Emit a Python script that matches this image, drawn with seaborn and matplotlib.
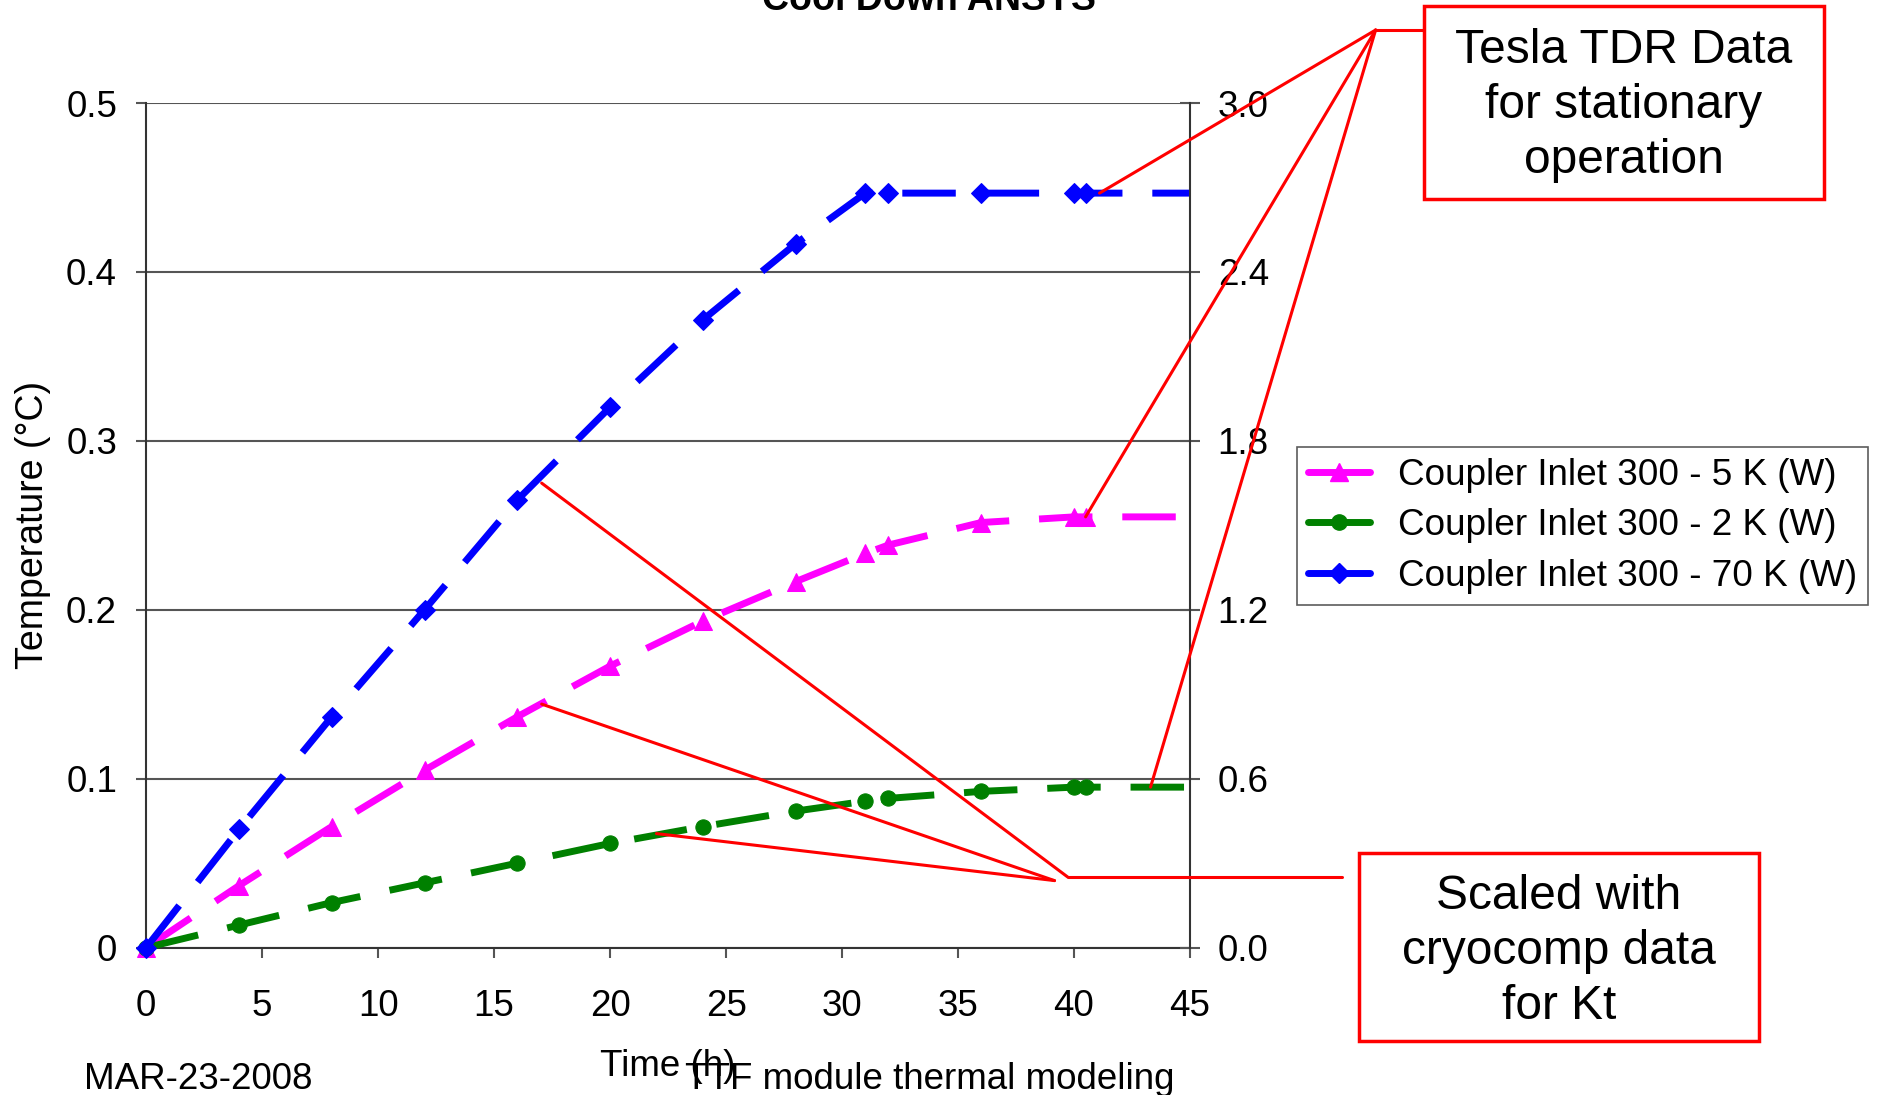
import pandas as pd
import matplotlib
matplotlib.use('Agg')
import matplotlib.pyplot as plt
import seaborn as sns
from matplotlib.patches import Rectangle, ConnectionPatch
from matplotlib.lines import Line2D

# data (right axis, W)
hours = [0, 4, 8, 12, 16, 20, 24, 28, 31, 32, 36, 40, 40.5, 45]
w_5k = [0, 0.22, 0.43, 0.63, 0.82, 1.00, 1.16, 1.30, 1.40, 1.43, 1.51, 1.53, 1.53, 1.53]
w_2k = [0, 0.08, 0.16, 0.23, 0.30, 0.37, 0.43, 0.485, 0.52, 0.53, 0.555, 0.57, 0.57, 0.57]
w_70k = [0, 0.42, 0.82, 1.20, 1.59, 1.92, 2.23, 2.50, 2.68, 2.68, 2.68, 2.68, 2.68, 2.68]

names = ['Coupler Inlet 300 - 5 K (W)', 'Coupler Inlet 300 - 2 K (W)', 'Coupler Inlet 300 - 70 K (W)']
colors = ['#FF00FF', '#008000', '#0000FF']
marks = ['^', 'o', 'D']
msizes = [13, 11, 10]

left_ticks = [0, 0.1, 0.2, 0.3, 0.4, 0.5]
right_ticks = [0.0, 0.6, 1.2, 1.8, 2.4, 3.0]
x_ticks = [0, 5, 10, 15, 20, 25, 30, 35, 40, 45]

df = pd.DataFrame({
    't': hours * 3,
    'w': w_5k + w_2k + w_70k,
    'series': [names[0]] * len(hours) + [names[1]] * len(hours) + [names[2]] * len(hours),
})

sns.set_theme(style='white')
plt.rcParams['font.family'] = ['Liberation Sans', 'DejaVu Sans']
plt.rcParams['text.color'] = 'black'
plt.rcParams['axes.labelcolor'] = 'black'
plt.rcParams['xtick.color'] = 'black'
plt.rcParams['ytick.color'] = 'black'

fig = plt.figure(figsize=(18.79, 10.95), dpi=100)
ax = fig.add_axes([0.0778, 0.1346, 0.5555, 0.7713])
ax2 = ax.twinx()

sns.lineplot(data=df, x='t', y='w', hue='series', style='series', hue_order=names, style_order=names,
             palette=dict(zip(names, colors)), markers=dict(zip(names, marks)),
             dashes={n: (7.7, 4.3) for n in names}, linewidth=5, sort=False,
             legend=False, ax=ax2)

for line, ms in zip(ax2.get_lines(), msizes):
    line.set_markeredgecolor(line.get_color())
    line.set_markersize(ms)
    line.set_markevery(list(range(len(hours) - 1)))
    line.set_clip_on(False)

# left axis: temperature
ax.set_xlim(0, 45)
ax.set_ylim(0, 0.5)
ax.set_xticks(x_ticks)
ax.set_yticks(left_ticks)
ax.set_yticklabels(['0', '0.1', '0.2', '0.3', '0.4', '0.5'])
ax.yaxis.grid(True, color='#555555', linewidth=1.5)
ax.xaxis.grid(False)
ax.tick_params(axis='both', labelsize=26.5, labelcolor='black', direction='out', length=7, width=1.5, color='#555555')
ax.tick_params(axis='y', pad=14, left=True)
ax.tick_params(axis='x', pad=23, bottom=True)
ax.set_xlabel('Time (h)', fontsize=26.5, color='black')
ax.set_ylabel('Temperature (°C)', fontsize=27, color='black')
ax.xaxis.set_label_coords(0.5, -0.12)
ax.yaxis.set_label_coords(-0.091, 0.5)
for side in ['top', 'right']:
    ax.spines[side].set_visible(False)
for side in ['left', 'bottom']:
    ax.spines[side].set_color('#333333')
    ax.spines[side].set_linewidth(1.5)

# right axis: power
ax2.set_xlim(0, 45)
ax2.set_ylim(0, 3.0)
ax2.set_yticks(right_ticks)
ax2.set_yticklabels([f'{v:.1f}' for v in right_ticks])
ax2.set_ylabel('')
ax2.tick_params(axis='y', labelsize=26.5, labelcolor='black', direction='inout', length=14, width=1.5,
                color='#555555', pad=13, right=True)
for side in ['top', 'left', 'bottom']:
    ax2.spines[side].set_visible(False)
ax2.spines['right'].set_color('#333333')
ax2.spines['right'].set_linewidth(1.5)

handles = [Line2D([], [], color=c, marker=m, markersize=ms, markeredgecolor=c, linewidth=5)
           for c, m, ms in zip(colors, marks, msizes)]
leg = fig.legend(handles, names, loc='upper left', bbox_to_anchor=(0.690, 0.592), borderaxespad=0,
                 fontsize=26.6, frameon=True, fancybox=False, handlelength=1.7, handletextpad=0.75,
                 borderpad=0.3, labelspacing=0.42, numpoints=1)
leg.get_frame().set_edgecolor('#333333')
leg.get_frame().set_linewidth(1.2)
for t in leg.get_texts():
    t.set_color('black')

fig.text(0.4944, 0.991, 'Cool Down ANSYS', ha='center', va='baseline', fontsize=27, weight='bold')
fig.text(0.0447, 0.0143, 'MAR-23-2008', ha='left', va='center', fontsize=26.5)
fig.text(0.3646, 0.0143, 'TTF module thermal modeling', ha='left', va='center', fontsize=26.5)

# callout boxes
red = '#FF0000'
fig.add_artist(Rectangle((0.7577, 0.8184), 0.2130, 0.1761, transform=fig.transFigure,
                         fill=False, edgecolor=red, linewidth=2.5))
fig.text(0.8642, 0.9037, 'Tesla TDR Data\nfor stationary\noperation', ha='center', va='center',
         fontsize=34.5, linespacing=1.29)
fig.add_artist(Rectangle((0.7232, 0.0492), 0.2130, 0.1718, transform=fig.transFigure,
                         fill=False, edgecolor=red, linewidth=2.5))
fig.text(0.8297, 0.1313, 'Scaled with\ncryocomp data\nfor Kt', ha='center', va='center',
         fontsize=34.5, linespacing=1.29)

fig.add_artist(Line2D([0.7577, 0.7321], [0.9726, 0.9726], transform=fig.transFigure, color=red, linewidth=2.2))
fig.add_artist(Line2D([0.7143, 0.5682], [0.1991, 0.1991], transform=fig.transFigure, color=red, linewidth=2.2))

callouts = [
    ((41.1, 2.68), (0.7321, 0.9726)),
    ((40.5, 1.53), (0.7321, 0.9726)),
    ((43.3, 0.57), (0.7321, 0.9726)),
    ((17.05, 1.65), (0.5682, 0.1991)),
    ((17.05, 0.865), (0.5612, 0.1958)),
    ((22.0, 0.405), (0.5612, 0.1958)),
]
for xy_data, xy_fig in callouts:
    con = ConnectionPatch(xyA=xy_data, coordsA=ax2.transData, xyB=xy_fig, coordsB='figure fraction',
                          color=red, linewidth=2.2)
    fig.add_artist(con)

fig.savefig('out.png', dpi=100)
